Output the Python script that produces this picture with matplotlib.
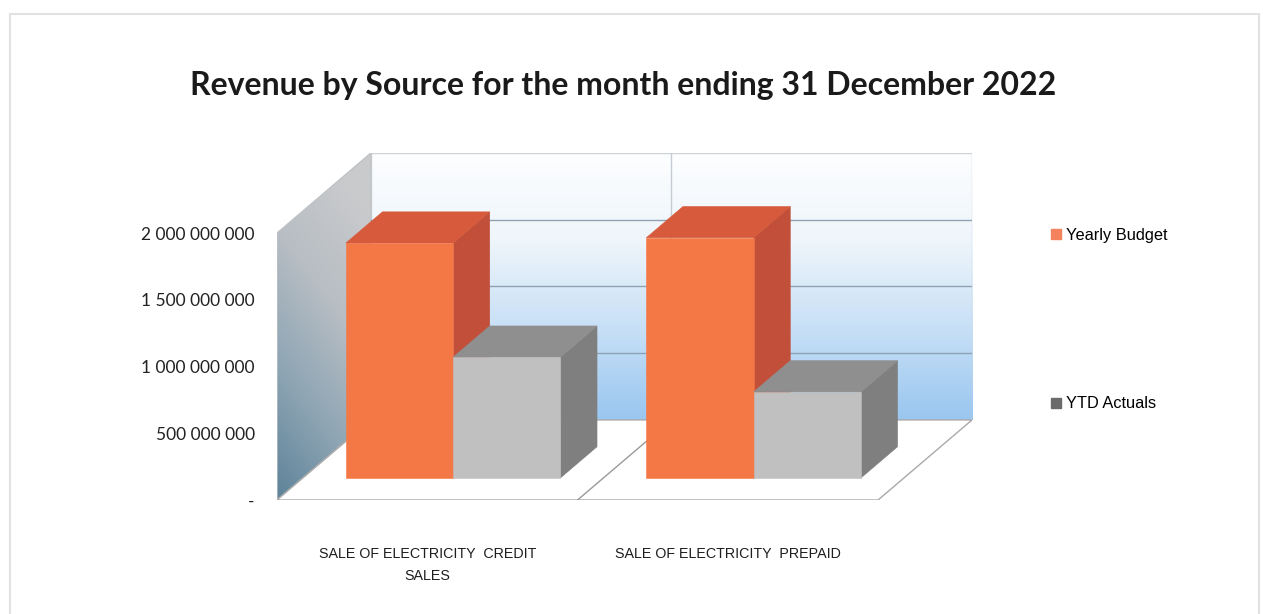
import matplotlib
matplotlib.use("Agg")
import matplotlib.pyplot as plt
import numpy as np
from matplotlib.patches import Polygon, Rectangle
from matplotlib.lines import Line2D
from matplotlib.colors import LinearSegmentedColormap

categories = ["SALE OF ELECTRICITY  CREDIT\nSALES", "SALE OF ELECTRICITY  PREPAID"]
series_names = ["Yearly Budget", "YTD Actuals"]
yearly_budget = [1.76e9, 1.80e9]
ytd_actuals = [0.905e9, 0.645e9]
y_ticks = [0, 5e8, 1e9, 1.5e9, 2e9]
y_tick_labels = ["-", "500 000 000", "1 000 000 000", "1 500 000 000", "2 000 000 000"]

# fake 3d: the back wall is shifted right/up from the front plane by (DX, DY)
DX = 0.3125
DY = 0.6e9
Y_MAX = 2e9
BAR_W = 0.357
GROUP_OFF = 0.143
Z0, Z1 = 0.275, 0.665   # front and back of the bars, as a fraction of floor depth

face_colors = {
    "Yearly Budget": ("#f47845", "#d65a3b", "#c24f3a"),
    "YTD Actuals": ("#c0c0c0", "#8f8f8f", "#7f7f7f"),
}
legend_colors = ["#f4825c", "#6b6b6b"]

arial = ["Liberation Sans", "DejaVu Sans"]


def proj(x, y, z):
    return (x + z * DX, y + z * DY)


def draw_box(ax, x, w, h, colors, zo):
    front, top, side = colors
    faces = [
        ([proj(x + w, 0, Z0), proj(x + w, 0, Z1), proj(x + w, h, Z1), proj(x + w, h, Z0)], side),
        ([proj(x, h, Z0), proj(x + w, h, Z0), proj(x + w, h, Z1), proj(x, h, Z1)], top),
        ([proj(x, 0, Z0), proj(x + w, 0, Z0), proj(x + w, h, Z0), proj(x, h, Z0)], front),
    ]
    for pts, c in faces:
        ax.add_patch(Polygon(pts, closed=True, facecolor=c, edgecolor=c, lw=0.4, zorder=zo))


fig = plt.figure(figsize=(12.65, 6.14), dpi=100)
fig.patch.set_facecolor("white")

# faint frame round the whole chart
fig.add_artist(Rectangle((10 / 1265, -0.02), 1249 / 1265, 1 - 14 / 614 + 0.02,
                         transform=fig.transFigure, fill=False,
                         edgecolor="#e2e2e2", lw=1.5))

ax = fig.add_axes([277 / 1265, 114 / 614, 695 / 1265, 347 / 614])
ax.set_xlim(0, 2 + DX)
ax.set_ylim(0, Y_MAX + DY)
for s in ax.spines.values():
    s.set_visible(False)
ax.set_facecolor("none")

# back wall with a white-to-blue gradient
wall_cmap = LinearSegmentedColormap.from_list(
    "wall", ["#fdfeff", "#eef5fb", "#c6dff6", "#99c6f0"])
grad = np.linspace(0, 1, 256).reshape(-1, 1)
ax.imshow(grad, cmap=wall_cmap, extent=[DX, 2 + DX, DY, Y_MAX + DY],
          aspect="auto", origin="upper", zorder=1)
ax.add_patch(Rectangle((DX, DY), 2, Y_MAX, fill=False, edgecolor="#cfd4d8", lw=1, zorder=3))

# side wall, gray on top fading to steel blue at the bottom front
side_cmap = LinearSegmentedColormap.from_list(
    "side", ["#c9cacc", "#b8bec4", "#8ea5b4", "#5e8399"])
gx, gy = np.meshgrid(np.linspace(0, 1, 64), np.linspace(1, 0, 256))
side_vals = np.clip(0.85 * (1 - gy) + 0.3 * (1 - gx) - 0.15, 0, 1)
side_poly = Polygon([(0, 0), (DX, DY), (DX, Y_MAX + DY), (0, Y_MAX)], closed=True,
                    facecolor="none", edgecolor="#bfc3c6", lw=1, zorder=3)
im = ax.imshow(side_vals, cmap=side_cmap, vmin=0, vmax=1,
               extent=[0, DX, 0, Y_MAX + DY], aspect="auto", origin="upper", zorder=2)
ax.add_patch(side_poly)
im.set_clip_path(side_poly)

# floor
ax.add_patch(Polygon([(0, 0), (2, 0), (2 + DX, DY), (DX, DY)], closed=True,
                     facecolor="white", edgecolor="#a9a9a9", lw=1, zorder=3))

# gridlines on the back wall and the category divider
for v in y_ticks[1:-1]:
    x0, y0 = proj(0, v, 1)
    x1, y1 = proj(2, v, 1)
    ax.plot([x0, x1], [y0, y1], color="#8ea2b4", lw=1, zorder=4)
x0, y0 = proj(1, 0, 1)
x1, y1 = proj(1, Y_MAX, 1)
ax.plot([x0, x1], [y0, y1], color="#c5ccd3", lw=1, zorder=4)
x0, y0 = proj(1, 0, 0)
x1, y1 = proj(1, 0, 1)
ax.plot([x0, x1], [y0, y1], color="#9a9a9a", lw=1, zorder=4)

# bars, left to right so nearer faces cover the ones behind
zo = 10
for i in range(len(categories)):
    for j, (name, vals) in enumerate(zip(series_names, [yearly_budget, ytd_actuals])):
        draw_box(ax, i + GROUP_OFF + j * BAR_W, BAR_W, vals[i], face_colors[name], zo)
        zo += 1

ax.set_yticks(y_ticks, y_tick_labels)
ax.set_xticks([0.5, 1.5], categories)
ax.tick_params(axis="y", length=0, pad=16, labelsize=12.5, labelcolor="#222222")
ax.tick_params(axis="x", length=0, pad=34, labelsize=10.3, labelcolor="#1e1e1e")
for lbl in ax.get_yticklabels():
    lbl.set_family(["Lato", "DejaVu Sans"])
for lbl in ax.get_xticklabels():
    lbl.set_family(arial)
    lbl.set_linespacing(1.7)

handles = [Line2D([], [], marker="s", linestyle="", markersize=7, color=c)
           for c in legend_colors]
fig.legend(handles, series_names, loc="upper left", bbox_to_anchor=(1041 / 1265, 1 - 220 / 614),
           frameon=False, prop={"family": arial, "size": 11.8}, labelspacing=9.35,
           handlelength=0.8, handletextpad=0.25, borderpad=0)

fig.text(623 / 1265, 1 - 86 / 614, "Revenue by Source for the month ending 31 December 2022",
         ha="center", va="center", fontsize=23, fontweight="bold",
         family=["Lato", "DejaVu Sans"], color="#1a1a1a")

fig.savefig("out.png", dpi=100, facecolor="white")
